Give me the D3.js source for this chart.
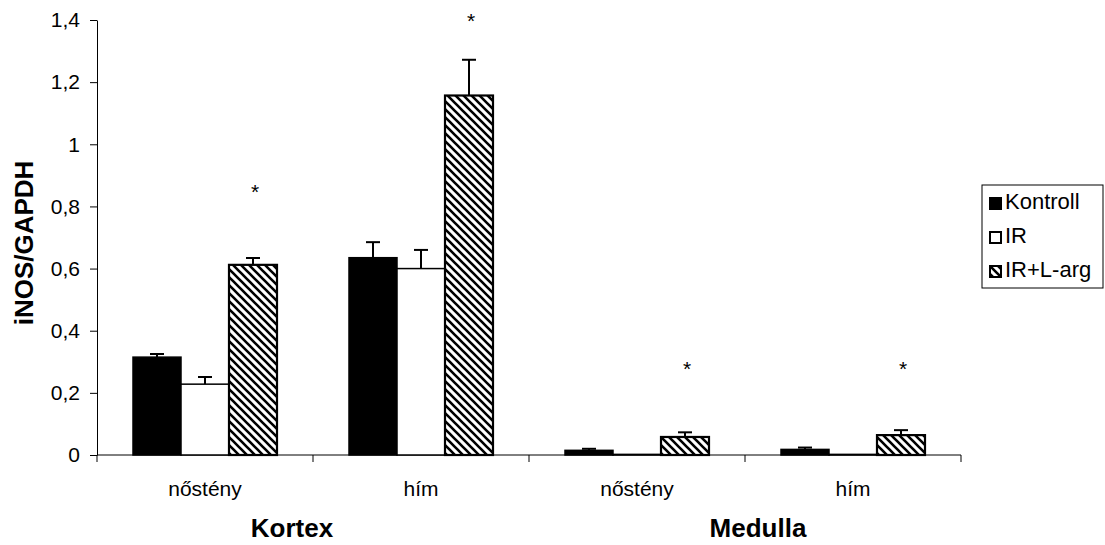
<!DOCTYPE html>
<html>
<head>
<meta charset="utf-8">
<script src="https://cdn.jsdelivr.net/npm/d3@7"></script>
<style>
  body { margin: 0; background: #fff; }
  text { font-family: "Liberation Sans", Arial, sans-serif; fill: #000; }
</style>
</head>
<body>
<script>
var width = 1105,
    height = 545;

// data
var categories = ["nőstény", "hím", "nőstény", "hím"];
var groups = ["Kortex", "Medulla"];
var series = ["Kontroll", "IR", "IR+L-arg"];
var kontroll = [0.315, 0.635, 0.015, 0.018];
var kontrollErr = [0.010, 0.050, 0.005, 0.006];
var ir = [0.228, 0.600, 0.002, 0.002];
var irErr = [0.023, 0.060, 0, 0];
var irLarg = [0.612, 1.157, 0.058, 0.064];
var irLargErr = [0.022, 0.115, 0.015, 0.016];
var stars = [0.86, 1.41, 0.29, 0.29];   // asterisk height (value units)
var yTicks = [0, 0.2, 0.4, 0.6, 0.8, 1, 1.2, 1.4];

var margin = {left: 97, right: 144, top: 20, bottom: 90};

var svg = d3.select("body").append("svg")
    .attr("width", width)
    .attr("height", height);

var defs = svg.append("defs");
var pat = defs.append("pattern")
    .attr("id", "hatch")
    .attr("patternUnits", "userSpaceOnUse")
    .attr("width", 8)
    .attr("height", 8);
pat.append("rect").attr("width", 8).attr("height", 8).attr("fill", "#fff");
pat.append("path")
    .attr("d", "M0,0L8,8M-2,6L2,10M6,-2L10,2")
    .attr("stroke", "#000")
    .attr("stroke-width", 2.6);

var x0 = d3.scaleBand()
    .domain(d3.range(categories.length))
    .range([margin.left, width - margin.right])
    .paddingInner(0).paddingOuter(0);

var x1 = d3.scaleBand()
    .domain(series)
    .range([0, x0.bandwidth()])
    .paddingInner(0)
    .paddingOuter(0.75);

var y = d3.scaleLinear()
    .domain([0, 1.4])
    .range([height - margin.bottom, margin.top]);

var locale = d3.formatLocale({decimal: ",", thousands: " ", grouping: [3], currency: ["", ""]});
var fmt = function(d) { return locale.format("~g")(+d.toFixed(1)); };

// y axis
var yAxis = svg.append("g")
    .attr("transform", "translate(" + margin.left + ",0)")
    .call(d3.axisLeft(y).tickValues(yTicks).tickFormat(fmt).tickSize(7).tickSizeOuter(0));
yAxis.select(".domain").attr("stroke", "#000");
yAxis.selectAll(".tick line").attr("stroke", "#000");
yAxis.selectAll(".tick text")
    .attr("x", -17)
    .style("font-size", "21px")
    .style("font-family", "Liberation Sans, Arial, sans-serif");

// x axis: category boundaries
var xBase = y(0);
svg.append("line")
    .attr("x1", margin.left).attr("x2", width - margin.right)
    .attr("y1", xBase).attr("y2", xBase)
    .attr("stroke", "#000");

var bounds = d3.range(categories.length + 1).map(function(i) {
  return i < categories.length ? x0(i) : x0(i - 1) + x0.bandwidth();
});
svg.selectAll(".xtick")
    .data(bounds)
    .enter().append("line")
    .attr("x1", function(d) { return d; })
    .attr("x2", function(d) { return d; })
    .attr("y1", xBase).attr("y2", xBase + 7)
    .attr("stroke", "#000");

svg.selectAll(".catlabel")
    .data(categories)
    .enter().append("text")
    .attr("x", function(d, i) { return x0(i) + x0.bandwidth() / 2; })
    .attr("y", 496)
    .attr("text-anchor", "middle")
    .style("font-size", "21px")
    .text(function(d) { return d; });

var groupX = [292, 758];
svg.selectAll(".grouplabel")
    .data(groups)
    .enter().append("text")
    .attr("x", function(d, i) { return groupX[i]; })
    .attr("y", 537)
    .attr("text-anchor", "middle")
    .style("font-size", "26px")
    .style("font-weight", "bold")
    .text(function(d) { return d; });

// y title
svg.append("text")
    .attr("transform", "translate(33,243) rotate(-90)")
    .attr("text-anchor", "middle")
    .style("font-size", "26px")
    .style("font-weight", "bold")
    .text("iNOS/GAPDH");

// bars
var fills = {"Kontroll": "#000", "IR": "#fff", "IR+L-arg": "url(#hatch)"};
var rows = [];
categories.forEach(function(c, i) {
  rows.push({cat: i, s: "Kontroll", v: kontroll[i], e: kontrollErr[i]});
  rows.push({cat: i, s: "IR", v: ir[i], e: irErr[i]});
  rows.push({cat: i, s: "IR+L-arg", v: irLarg[i], e: irLargErr[i]});
});

var bar = svg.selectAll(".bar")
    .data(rows)
    .enter().append("g");

// error bars first so bar outline sits on top
bar.filter(function(d) { return d.e > 0; })
    .each(function(d) {
      var g = d3.select(this);
      var cx = x0(d.cat) + x1(d.s) + x1.bandwidth() / 2;
      g.append("line")
          .attr("x1", cx).attr("x2", cx)
          .attr("y1", y(d.v)).attr("y2", y(d.v + d.e))
          .attr("stroke", "#000").attr("stroke-width", 2);
      g.append("line")
          .attr("x1", cx - 7).attr("x2", cx + 7)
          .attr("y1", y(d.v + d.e)).attr("y2", y(d.v + d.e))
          .attr("stroke", "#000").attr("stroke-width", 2);
    });

bar.append("rect")
    .attr("x", function(d) { return x0(d.cat) + x1(d.s); })
    .attr("y", function(d) { return y(d.v); })
    .attr("width", x1.bandwidth())
    .attr("height", function(d) { return y(0) - y(d.v); })
    .attr("fill", function(d) { return fills[d.s]; })
    .attr("stroke", "#000")
    .attr("stroke-width", function(d) { return d.s === "IR+L-arg" ? 2.2 : 1.5; });

// asterisks
svg.selectAll(".star")
    .data(stars)
    .enter().append("text")
    .attr("x", function(d, i) { return x0(i) + x1("IR+L-arg") + x1.bandwidth() / 2 + 2; })
    .attr("y", function(d) { return y(d) + 11; })
    .attr("text-anchor", "middle")
    .style("font-size", "21px")
    .text("*");

// legend
var legend = svg.append("g").attr("transform", "translate(982,185)");
legend.append("rect")
    .attr("width", 121).attr("height", 103)
    .attr("fill", "#fff").attr("stroke", "#000");
var item = legend.selectAll(".item")
    .data(series)
    .enter().append("g")
    .attr("transform", function(d, i) { return "translate(8," + (13 + i * 34) + ")"; });
item.append("rect")
    .attr("width", 11).attr("height", 11)
    .attr("fill", function(d) { return fills[d]; })
    .attr("stroke", "#000").attr("stroke-width", 2);
item.append("text")
    .attr("x", 15)
    .attr("y", 11)
    .style("font-size", "22px")
    .text(function(d) { return d; });
</script>
</body>
</html>
